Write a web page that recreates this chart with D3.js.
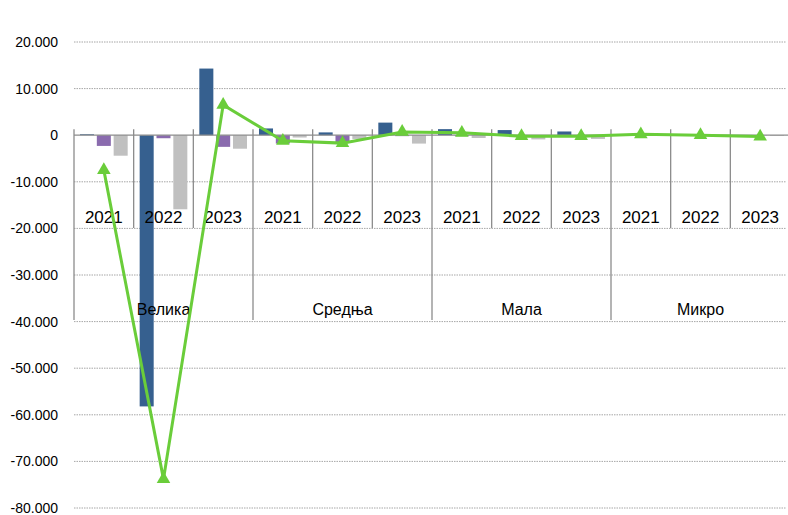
<!DOCTYPE html>
<html><head><meta charset="utf-8">
<script src="https://cdn.jsdelivr.net/npm/d3@7"></script>
<style>body{margin:0;background:#fff;}svg{display:block;font-family:"Liberation Sans",Arial,sans-serif;}</style>
</head><body>
<svg id="c" width="788" height="515"></svg>
<script>
const groups = ["Велика","Средња","Мала","Микро"];
const years = ["2021","2022","2023"];
const seriesBlue   = [200, -58200, 14300,  1450, 600, 2700,  1300, 1100, 800,  150, 50, 50];
const seriesPurple = [-2300, -650, -2500,  -1800, -1500, -200,  -200, -300, -300,  -50, -50, -50];
const seriesGray   = [-4400, -15900, -2900,  -500, -800, -1800,  -600, -900, -800,  -50, -100, -150];
const seriesLine   = [-7500, -73800, 6500,  -1200, -1700, 700,  500, -200, -200,  200, 0, -300];
const yTicks = [20000,10000,0,-10000,-20000,-30000,-40000,-50000,-60000,-70000,-80000];

const svg = d3.select("#c");
const L = 74, R = 790, T = 42, B = 508;
const y = d3.scaleLinear().domain([-80000, 20000]).range([B, T]);
const gx = d3.scaleBand().domain(groups).range([L, R]);
const cats = [];
groups.forEach(g => years.forEach(yr => cats.push(g + "|" + yr)));
const x = d3.scaleBand().domain(cats).range([L, R]);
const bw = x.bandwidth();
const barW = bw * 0.235, barGap = barW * 0.2;
const off0 = (bw - (3 * barW + 2 * barGap)) / 2;

const fmt = v => v === 0 ? "0" : d3.format(",")(v).replace(/,/g, ".").replace("−", "-");

// gridlines
svg.append("g").selectAll("line").data(yTicks.filter(v => v !== 0)).join("line")
  .attr("x1", L).attr("x2", 786).attr("y1", d => y(d)).attr("y2", d => y(d))
  .attr("stroke", "#a6a6a6").attr("stroke-width", 1).attr("stroke-dasharray", "1.5,1");

// y axis labels
const ya = d3.axisLeft(y).tickValues(yTicks).tickFormat(fmt).tickSize(0).tickPadding(16);
const yg = svg.append("g").attr("transform", `translate(${L},0)`).call(ya);
yg.select(".domain").remove();
yg.selectAll("text").attr("font-size", 14).attr("fill", "#000").attr("font-family", '"Liberation Sans",Arial,sans-serif');

// bars
const series = [
  {vals: seriesBlue, color: "#36608f"},
  {vals: seriesPurple, color: "#8a6bae"},
  {vals: seriesGray, color: "#c0c0c0"}
];
series.forEach((s, i) => {
  svg.append("g").selectAll("rect").data(s.vals).join("rect")
    .attr("x", (d, j) => x(cats[j]) + off0 + i * (barW + barGap))
    .attr("width", barW)
    .attr("y", d => Math.min(y(d), y(0)))
    .attr("height", d => Math.abs(y(d) - y(0)))
    .attr("fill", s.color);
});

// category axis
const ax = svg.append("g");
ax.append("line").attr("x1", L).attr("x2", R).attr("y1", y(0)).attr("y2", y(0))
  .attr("stroke", "#8c8c8c").attr("stroke-width", 1.3);
cats.forEach((c, j) => {
  const xx = x(c);
  const isGroup = j % 3 === 0;
  ax.append("line").attr("x1", xx).attr("x2", xx)
    .attr("y1", y(0) - 6).attr("y2", isGroup ? 320 : 228)
    .attr("stroke", "#8c8c8c").attr("stroke-width", 1.3);
});
ax.append("line").attr("x1", R - 0.5).attr("x2", R - 0.5).attr("y1", y(0) - 6).attr("y2", 320)
  .attr("stroke", "#8c8c8c").attr("stroke-width", 1.3);
ax.selectAll("text.yr").data(cats).join("text").attr("class", "yr")
  .attr("x", d => x(d) + bw / 2).attr("y", 223).attr("text-anchor", "middle")
  .attr("font-size", 17).attr("fill", "#000").text(d => d.split("|")[1]);
ax.selectAll("text.gr").data(groups).join("text").attr("class", "gr")
  .attr("x", d => gx(d) + gx.bandwidth() / 2).attr("y", 315).attr("text-anchor", "middle")
  .attr("font-size", 16).attr("fill", "#000").text(d => d);

// line
const green = "#6acd3a";
const line = d3.line().x((d, j) => x(cats[j]) + bw / 2).y(d => y(d));
svg.append("path").datum(seriesLine).attr("d", line)
  .attr("fill", "none").attr("stroke", green).attr("stroke-width", 3).attr("stroke-linejoin", "miter");
const tri = d3.symbol().type(d3.symbolTriangle).size(80);
svg.append("g").selectAll("path").data(seriesLine).join("path")
  .attr("transform", (d, j) => `translate(${x(cats[j]) + bw / 2},${y(d)})`)
  .attr("d", tri).attr("fill", green);
</script>
</body></html>
